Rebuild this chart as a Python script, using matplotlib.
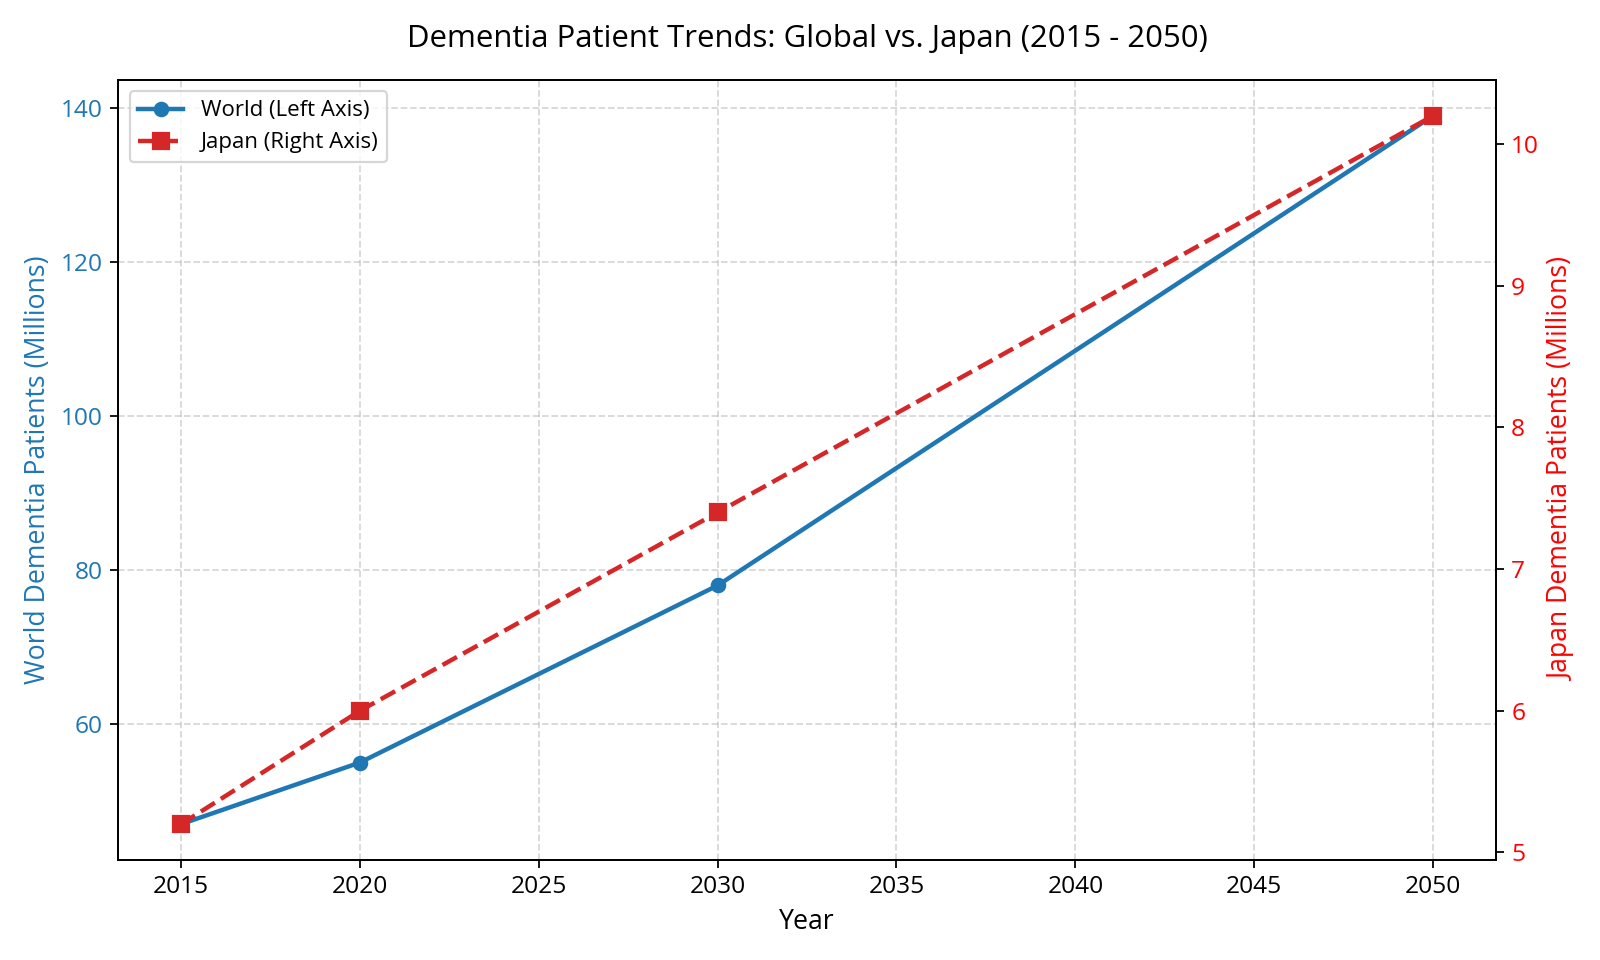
import numpy as np
import matplotlib
matplotlib.use('Agg')
import matplotlib.pyplot as plt

plt.rcParams['font.family'] = ['Open Sans', 'DejaVu Sans']

years = [2015, 2020, 2030, 2050]
world = [47, 55, 78, 139]
japan = [5.2, 6.0, 7.4, 10.2]

fig, ax1 = plt.subplots(figsize=(10, 6), dpi=160)

l1, = ax1.plot(years, world, 'o-', color='tab:blue', linewidth=2, markersize=6,
               label='World (Left Axis)')
ax1.set_xlabel('Year', fontsize=12)
ax1.set_ylabel('World Dementia Patients (Millions)', color='tab:blue', fontsize=12)
ax1.tick_params(axis='y', labelcolor='tab:blue', labelsize=11)
ax1.tick_params(axis='x', labelsize=11)
ax1.grid(True, linestyle='--', alpha=0.5)

ax2 = ax1.twinx()
l2, = ax2.plot(years, japan, 's--', color='tab:red', linewidth=2, markersize=7,
               label='Japan (Right Axis)')
ax2.set_ylabel('Japan Dementia Patients (Millions)', color='red', fontsize=12)
ax2.tick_params(axis='y', labelcolor='red', labelsize=11)

ax1.set_xticks(np.arange(2015, 2051, 5))
ax1.legend([l1, l2], [l1.get_label(), l2.get_label()], loc='upper left', fontsize=10)

plt.title('Dementia Patient Trends: Global vs. Japan (2015 - 2050)', fontsize=14, pad=15)
fig.tight_layout()
plt.savefig('out.png')
